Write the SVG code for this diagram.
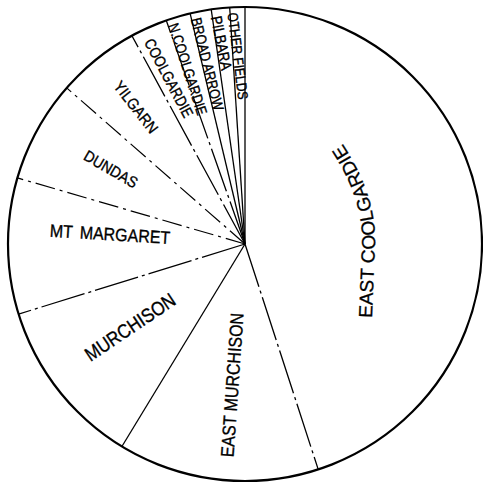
<svg xmlns="http://www.w3.org/2000/svg" width="483" height="486" viewBox="0 0 483 486">
<style>
.bg{fill:#fff}
.rim{fill:none;stroke:#000;stroke-width:2.2}
.s{stroke:#000;stroke-width:1.3;fill:none}
.d{stroke:#000;stroke-width:1.2;fill:none;stroke-dasharray:20 5 3 5}
.ld{stroke:#000;stroke-width:1.3;fill:none;stroke-dasharray:45 4 3 4}
text{font-family:"Liberation Sans",Arial,sans-serif;fill:#000;text-anchor:middle;stroke:#000;stroke-width:0.3}
</style>
<defs>
<path id="ecPath" d="M 372 318 L 375 245 Q 377 194 340 140"/>
</defs>
<rect class="bg" x="0" y="0" width="483" height="486"/>
<g id="connectors">
<circle class="rim" cx="245" cy="244" r="237"/>
<line class="s" x1="245" y1="244" x2="245" y2="7"/>
<line class="s" x1="245" y1="244" x2="229.7" y2="7.5"/>
<line class="s" x1="245" y1="244" x2="211.2" y2="9.4"/>
<line class="s" x1="245" y1="244" x2="190.1" y2="13.4"/>
<line class="ld" x1="245" y1="244" x2="166.3" y2="20.5"/>
<line class="ld" x1="245" y1="244" x2="131.9" y2="35.7"/>
<line class="d" x1="245" y1="244" x2="66.7" y2="87.9"/>
<line class="d" x1="245" y1="244" x2="17.4" y2="177.9"/>
<line class="ld" x1="245" y1="244" x2="18.6" y2="314.1"/>
<line class="s" x1="245" y1="244" x2="121.9" y2="446.5"/>
<line class="ld" x1="245" y1="244" x2="318.2" y2="469.4"/>
</g>
<g id="east-coolgardie">
<text font-size="19" style="text-anchor:start"><textPath href="#ecPath">EAST COOLGARDIE</textPath></text>
</g>
<g id="east-murchison">
<text font-size="16" transform="translate(232,385) rotate(-86) scale(1,1.15)" y="5.7">EAST MURCHISON</text>
</g>
<g id="murchison">
<text font-size="17" transform="translate(130,327) rotate(-34) scale(1,1.15)" y="6">MURCHISON</text>
</g>
<g id="mt-margaret">
<text font-size="16" transform="translate(110,234) rotate(3.5) scale(1,1.12)" y="5.7">MT<tspan dx="7">MARGARET</tspan></text>
</g>
<g id="dundas">
<text font-size="14" transform="translate(111,169) rotate(30) scale(1,1.12)" y="5">DUNDAS</text>
</g>
<g id="yilgarn">
<text font-size="14" transform="translate(136,107) rotate(52) scale(1,1.12)" y="5">YILGARN</text>
</g>
<g id="coolgardie">
<text font-size="13" transform="translate(169,78) rotate(62) scale(1,1.2)" y="4.6">COOLGARDIE</text>
</g>
<g id="n-coolgardie">
<text font-size="12.5" transform="translate(188,69) rotate(72) scale(1,1.2)" y="4.5">N.COOLGARDIE</text>
</g>
<g id="broad-arrow">
<text font-size="12.5" transform="translate(207.5,64) rotate(76) scale(1,1.2)" y="4.5">BROAD ARROW</text>
</g>
<g id="pilbara">
<text font-size="13" transform="translate(221.5,43) rotate(79) scale(1,1.2)" y="4.6">PILBARA</text>
</g>
<g id="other-fields">
<text font-size="12" transform="translate(238,56) rotate(83) scale(1,1.2)" y="4.3">OTHER FIELDS</text>
</g>
</svg>
